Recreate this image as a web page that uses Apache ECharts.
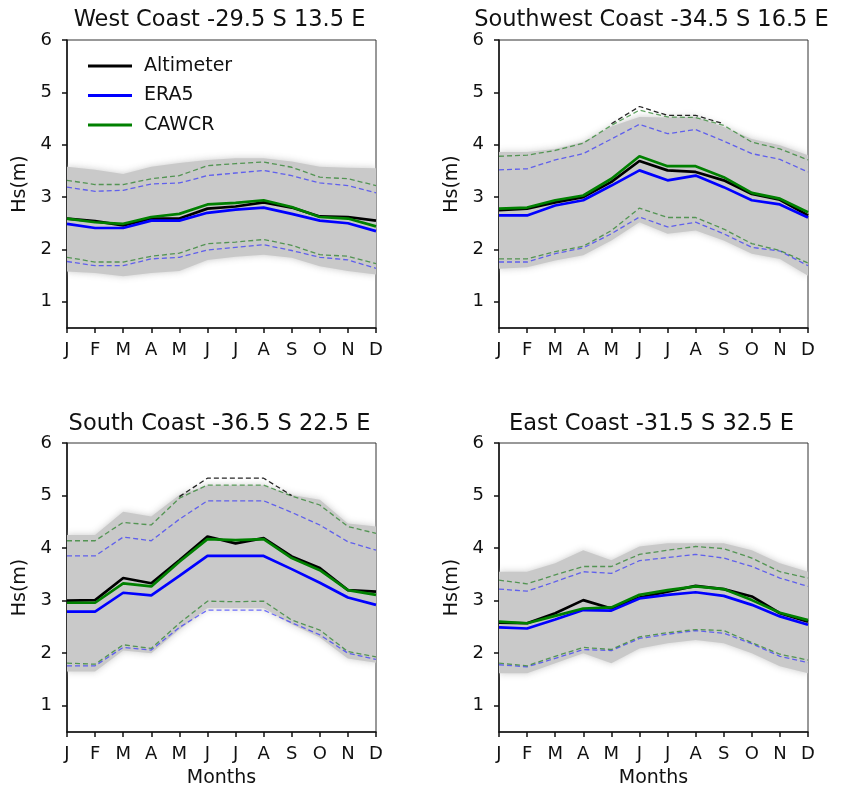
<!DOCTYPE html>
<html><head><meta charset="utf-8">
<script src="https://cdn.jsdelivr.net/npm/echarts@6/dist/echarts.min.js"></script>
<style>html,body{margin:0;padding:0;background:#fff}#c{width:850px;height:792px}</style>
</head><body><div id="c"></div>
<script>
const months = ['J','F','M','A','M','J','J','A','S','O','N','D'];
const yTicks = [1, 2, 3, 4, 5, 6];
const titles = ['West Coast -29.5 S 13.5 E', 'Southwest Coast -34.5 S 16.5 E', 'South Coast -36.5 S 22.5 E', 'East Coast -31.5 S 32.5 E'];

// West Coast
const wAlt    = [2.59, 2.54, 2.46, 2.59, 2.59, 2.78, 2.82, 2.90, 2.80, 2.63, 2.62, 2.55];
const wEra    = [2.49, 2.41, 2.41, 2.55, 2.55, 2.70, 2.76, 2.80, 2.68, 2.55, 2.50, 2.35];
const wCaw    = [2.59, 2.52, 2.49, 2.62, 2.68, 2.86, 2.89, 2.94, 2.81, 2.62, 2.59, 2.44];
const wEraHi  = [3.19, 3.11, 3.13, 3.25, 3.27, 3.41, 3.46, 3.51, 3.41, 3.27, 3.22, 3.08];
const wEraLo  = [1.77, 1.69, 1.69, 1.82, 1.85, 1.99, 2.04, 2.09, 1.98, 1.85, 1.80, 1.64];
const wCawHi  = [3.32, 3.24, 3.24, 3.35, 3.41, 3.60, 3.64, 3.67, 3.57, 3.38, 3.35, 3.22];
const wCawLo  = [1.85, 1.76, 1.76, 1.87, 1.93, 2.11, 2.14, 2.19, 2.08, 1.90, 1.87, 1.73];
const wBandHi = [3.58, 3.52, 3.44, 3.58, 3.65, 3.71, 3.74, 3.74, 3.68, 3.58, 3.56, 3.55];
const wBandLo = [1.58, 1.55, 1.49, 1.55, 1.59, 1.80, 1.86, 1.90, 1.84, 1.68, 1.59, 1.52];
const wAltHi  = [null, null, null, null, null, null, null, null, null, null, null, null];

// Southwest Coast
const swAlt    = [2.75, 2.78, 2.90, 3.00, 3.29, 3.69, 3.51, 3.48, 3.32, 3.06, 2.95, 2.65];
const swEra    = [2.65, 2.65, 2.84, 2.94, 3.22, 3.51, 3.32, 3.41, 3.19, 2.94, 2.86, 2.61];
const swCaw    = [2.78, 2.80, 2.94, 3.03, 3.35, 3.78, 3.59, 3.59, 3.38, 3.08, 2.97, 2.71];
const swEraHi  = [3.52, 3.54, 3.71, 3.83, 4.11, 4.39, 4.21, 4.29, 4.07, 3.83, 3.72, 3.48];
const swEraLo  = [1.76, 1.76, 1.92, 2.03, 2.30, 2.62, 2.43, 2.52, 2.30, 2.04, 1.97, 1.69];
const swCawHi  = [3.78, 3.80, 3.89, 4.03, 4.37, 4.66, 4.53, 4.52, 4.37, 4.05, 3.92, 3.71];
const swCawLo  = [1.82, 1.82, 1.96, 2.06, 2.36, 2.79, 2.61, 2.61, 2.39, 2.11, 1.98, 1.74];
const swBandHi = [3.86, 3.86, 3.92, 4.05, 4.35, 4.53, 4.52, 4.53, 4.34, 4.11, 3.99, 3.80];
const swBandLo = [1.63, 1.66, 1.79, 1.89, 2.17, 2.52, 2.30, 2.36, 2.17, 1.92, 1.82, 1.50];
const swAltHi  = [null, null, null, null, 4.40, 4.73, 4.56, 4.56, 4.40, null, null, null];

// South Coast
const sAlt    = [3.00, 3.01, 3.43, 3.33, 3.77, 4.22, 4.09, 4.19, 3.84, 3.62, 3.20, 3.17];
const sEra    = [2.79, 2.79, 3.15, 3.10, 3.47, 3.85, 3.85, 3.85, 3.60, 3.34, 3.06, 2.92];
const sCaw    = [2.96, 2.96, 3.33, 3.27, 3.74, 4.17, 4.15, 4.17, 3.81, 3.58, 3.20, 3.11];
const sEraHi  = [3.85, 3.85, 4.21, 4.14, 4.55, 4.90, 4.90, 4.90, 4.68, 4.44, 4.12, 3.96];
const sEraLo  = [1.76, 1.76, 2.11, 2.06, 2.49, 2.82, 2.82, 2.82, 2.58, 2.35, 2.00, 1.88];
const sCawHi  = [4.14, 4.14, 4.49, 4.44, 4.95, 5.20, 5.20, 5.20, 4.99, 4.82, 4.41, 4.28];
const sCawLo  = [1.81, 1.79, 2.16, 2.09, 2.57, 2.99, 2.98, 2.99, 2.63, 2.44, 2.03, 1.93];
const sBandHi = [4.25, 4.25, 4.69, 4.60, 5.01, 5.19, 5.19, 5.19, 5.01, 4.92, 4.47, 4.41];
const sBandLo = [1.65, 1.65, 2.05, 2.00, 2.45, 2.86, 2.86, 2.86, 2.55, 2.30, 1.90, 1.82];
const sAltHi  = [null, null, null, null, 4.98, 5.33, 5.33, 5.33, 5.00, null, null, null];

// East Coast
const eAlt    = [2.58, 2.57, 2.76, 3.01, 2.85, 3.06, 3.17, 3.28, 3.22, 3.08, 2.76, 2.60];
const eEra    = [2.49, 2.47, 2.64, 2.82, 2.81, 3.04, 3.11, 3.16, 3.09, 2.92, 2.70, 2.54];
const eCaw    = [2.60, 2.57, 2.71, 2.85, 2.87, 3.11, 3.20, 3.27, 3.22, 3.01, 2.77, 2.63];
const eEraHi  = [3.22, 3.18, 3.36, 3.55, 3.52, 3.76, 3.82, 3.88, 3.81, 3.65, 3.43, 3.27];
const eEraLo  = [1.78, 1.74, 1.90, 2.07, 2.05, 2.28, 2.36, 2.43, 2.38, 2.18, 1.94, 1.82];
const eCawHi  = [3.39, 3.32, 3.49, 3.65, 3.65, 3.88, 3.96, 4.03, 3.99, 3.81, 3.55, 3.43];
const eCawLo  = [1.81, 1.76, 1.94, 2.11, 2.07, 2.31, 2.39, 2.45, 2.43, 2.20, 1.98, 1.87];
const eBandHi = [3.55, 3.55, 3.71, 3.96, 3.77, 4.03, 4.09, 4.09, 4.09, 3.96, 3.71, 3.55];
const eBandLo = [1.62, 1.62, 1.81, 2.00, 1.81, 2.09, 2.19, 2.25, 2.19, 2.00, 1.75, 1.62];
const eAltHi  = [null, null, null, null, null, null, null, null, null, null, null, null];

const panels = [
  {alt: wAlt, era: wEra, caw: wCaw, eraHi: wEraHi, eraLo: wEraLo, cawHi: wCawHi, cawLo: wCawLo, bandHi: wBandHi, bandLo: wBandLo, altHi: wAltHi},
  {alt: swAlt, era: swEra, caw: swCaw, eraHi: swEraHi, eraLo: swEraLo, cawHi: swCawHi, cawLo: swCawLo, bandHi: swBandHi, bandLo: swBandLo, altHi: swAltHi},
  {alt: sAlt, era: sEra, caw: sCaw, eraHi: sEraHi, eraLo: sEraLo, cawHi: sCawHi, cawLo: sCawLo, bandHi: sBandHi, bandLo: sBandLo, altHi: sAltHi},
  {alt: eAlt, era: eEra, caw: eCaw, eraHi: eEraHi, eraLo: eEraLo, cawHi: eCawHi, cawLo: eCawLo, bandHi: eBandHi, bandLo: eBandLo, altHi: eAltHi}
];

const FONT = 'DejaVu Sans';
const gridPos = [
  {left: 67, top: 40, width: 309, height: 288},
  {left: 499, top: 40, width: 309, height: 288},
  {left: 67, top: 443, width: 309, height: 289},
  {left: 499, top: 443, width: 309, height: 289}
];
const titleTop = [9, 9, 413, 413];

const grid = [], xAxis = [], yAxis = [], series = [], title = [];
panels.forEach((p, i) => {
  const g = gridPos[i];
  grid.push(Object.assign({show: true, borderColor: '#333', borderWidth: 1, backgroundColor: 'transparent'}, g));
  title.push({
    text: titles[i], left: g.left + g.width / 2 - 2, top: titleTop[i], textAlign: 'center', padding: 0,
    textStyle: {fontFamily: FONT, fontSize: 22.5, fontWeight: 'normal', color: '#111'}
  });
  xAxis.push({
    type: 'category', gridIndex: i, data: months, boundaryGap: false,
    axisLine: {lineStyle: {color: '#111', width: 1.5}},
    axisTick: {alignWithLabel: true, length: 5, lineStyle: {color: '#111', width: 1.5}},
    axisLabel: {interval: 0, margin: 13, fontFamily: FONT, fontSize: 18, color: '#111'},
    splitLine: {show: false},
    name: i >= 2 ? 'Months' : '', nameLocation: 'middle', nameGap: 37,
    nameTextStyle: {fontFamily: FONT, fontSize: 19, color: '#111'}
  });
  yAxis.push({
    type: 'value', gridIndex: i, min: 0.5, max: 6,
    axisLine: {show: true, lineStyle: {color: '#111', width: 1.5}},
    axisTick: {show: true, customValues: yTicks, length: 5, lineStyle: {color: '#111', width: 1.5}},
    axisLabel: {customValues: yTicks, margin: 15, fontFamily: FONT, fontSize: 18, color: '#111'},
    splitLine: {show: false},
    name: 'Hs(m)', nameLocation: 'middle', nameGap: 37, nameRotate: 90,
    nameTextStyle: {fontFamily: FONT, fontSize: 19, color: '#111'}
  });
  const base = {xAxisIndex: i, yAxisIndex: i, type: 'line', symbol: 'none', silent: true, animation: false};
  series.push(Object.assign({}, base, {
    name: 'bandLo' + i, data: p.bandLo, stack: 'band' + i, lineStyle: {width: 0, opacity: 0}, z: 1
  }));
  series.push(Object.assign({}, base, {
    name: 'band' + i, data: p.bandHi.map((v, k) => +(v - p.bandLo[k]).toFixed(3)), stack: 'band' + i,
    lineStyle: {width: 0, opacity: 0},
    areaStyle: {color: '#c9c9c9', opacity: 1, shadowBlur: 7, shadowColor: 'rgba(195,195,195,0.9)'}, z: 1
  }));
  const dash = (name, data, color) => Object.assign({}, base, {
    name: name + i, data: data, z: 2,
    lineStyle: {color: color, width: 1.3, type: [5, 3]}
  });
  series.push(dash('eraHi', p.eraHi, 'rgba(40,40,255,0.65)'));
  series.push(dash('eraLo', p.eraLo, 'rgba(40,40,255,0.65)'));
  series.push(dash('cawHi', p.cawHi, 'rgba(20,120,20,0.65)'));
  series.push(dash('cawLo', p.cawLo, 'rgba(20,120,20,0.65)'));
  series.push(dash('altHi', p.altHi, 'rgba(0,0,0,0.85)'));
  series.push(Object.assign({}, base, {name: 'Altimeter', data: p.alt, z: 3, color: '#000', lineStyle: {color: '#000', width: 2.7}}));
  series.push(Object.assign({}, base, {name: 'ERA5', data: p.era, z: 3, color: '#0000ff', lineStyle: {color: '#0000ff', width: 2.7}}));
  series.push(Object.assign({}, base, {name: 'CAWCR', data: p.caw, z: 3, color: '#008000', lineStyle: {color: '#008000', width: 2.7}}));
});

const chart = echarts.init(document.getElementById('c'), null, {renderer: 'canvas'});
chart.setOption({
  animation: false,
  backgroundColor: '#fff',
  title: title,
  grid: grid, xAxis: xAxis, yAxis: yAxis, series: series,
  legend: {
    data: ['Altimeter', 'ERA5', 'CAWCR'], orient: 'vertical', left: 83, top: 51,
    icon: 'rect', itemWidth: 44, itemHeight: 3, itemGap: 9.5, selectedMode: false,
    textStyle: {fontFamily: FONT, fontSize: 19, color: '#111', lineHeight: 20, padding: [0, 0, 0, 7]}
  }
});
</script></body></html>
